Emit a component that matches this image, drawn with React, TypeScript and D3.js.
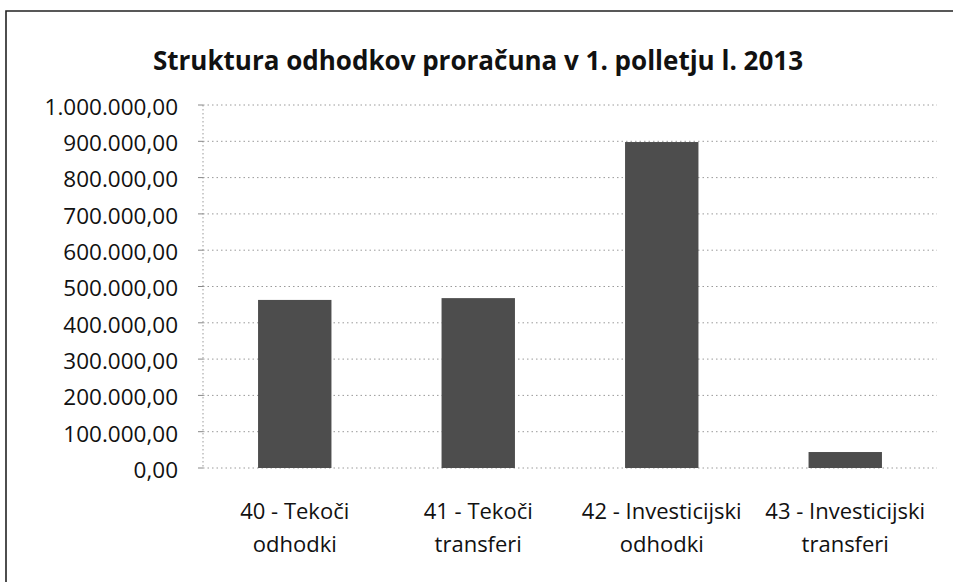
import React, { useEffect, useRef } from 'react';
import * as d3 from 'd3';

const title = 'Struktura odhodkov proračuna v 1. polletju l. 2013';
const categories = [
  ['40 - Tekoči', 'odhodki'],
  ['41 - Tekoči', 'transferi'],
  ['42 - Investicijski', 'odhodki'],
  ['43 - Investicijski', 'transferi'],
];
const values = [463000, 468000, 898000, 44000];
const yTicks = [0, 100000, 200000, 300000, 400000, 500000, 600000, 700000, 800000, 900000, 1000000];

const W = 953;
const H = 582;
const FONT = '"Open Sans", "Noto Sans", sans-serif';

// 1.000.000,00 style
const fmt = (v: number) =>
  d3.format(',.2f')(v).replace(/,/g, '#').replace('.', ',').replace(/#/g, '.');

const App: React.FC = () => {
  const svgRef = useRef<SVGSVGElement>(null);

  useEffect(() => {
    if (!svgRef.current) return;
    const svg = d3.select(svgRef.current);
    svg.selectAll('*').remove();

    const left = 203, right = 937, top = 105, bottom = 468;

    const x = d3.scaleBand<number>()
      .domain(d3.range(categories.length))
      .range([left, right])
      .paddingInner(0.6)
      .paddingOuter(0.3);
    const y = d3.scaleLinear().domain([0, 1000000]).range([bottom, top]);

    svg.append('rect')
      .attr('x', 0).attr('y', 0).attr('width', W).attr('height', H)
      .attr('fill', '#fff');

    // frame
    svg.append('path')
      .attr('d', `M6,${H} L6,11 L${W},11`)
      .attr('fill', 'none')
      .attr('stroke', '#222')
      .attr('stroke-width', 1.6);

    svg.append('text')
      .attr('x', 478).attr('y', 70)
      .attr('text-anchor', 'middle')
      .attr('font-family', FONT)
      .attr('font-weight', 700)
      .attr('font-size', 26)
      .attr('fill', '#111')
      .text(title);

    // gridlines
    svg.append('g')
      .selectAll('line')
      .data(yTicks)
      .enter().append('line')
      .attr('x1', left).attr('x2', right)
      .attr('y1', d => y(d)).attr('y2', d => y(d))
      .attr('stroke', '#9a9a9a')
      .attr('stroke-width', 1)
      .attr('stroke-dasharray', '1.5,3');

    // y axis line + ticks
    svg.append('line')
      .attr('x1', left).attr('x2', left)
      .attr('y1', top).attr('y2', bottom)
      .attr('stroke', '#9a9a9a')
      .attr('stroke-dasharray', '1.5,2.5');
    svg.append('g')
      .selectAll('line')
      .data(yTicks)
      .enter().append('line')
      .attr('x1', left - 5).attr('x2', left)
      .attr('y1', d => y(d)).attr('y2', d => y(d))
      .attr('stroke', '#888');

    svg.append('g')
      .selectAll('text')
      .data(yTicks)
      .enter().append('text')
      .attr('x', 178)
      .attr('y', d => y(d) + 2)
      .attr('dy', '0.35em')
      .attr('text-anchor', 'end')
      .attr('font-family', FONT)
      .attr('font-size', 22.5)
      .attr('fill', '#111')
      .text(d => fmt(d));

    // bars
    svg.append('g')
      .selectAll('rect')
      .data(values)
      .enter().append('rect')
      .attr('x', (_, i) => x(i)!)
      .attr('width', x.bandwidth())
      .attr('y', d => y(d))
      .attr('height', d => bottom - y(d))
      .attr('fill', '#4d4d4d');

    // x labels
    const xl = svg.append('g')
      .selectAll('text')
      .data(categories)
      .enter().append('text')
      .attr('text-anchor', 'middle')
      .attr('font-family', FONT)
      .attr('font-size', 22)
      .attr('fill', '#111');
    xl.each(function (d, i) {
      const t = d3.select(this);
      const cx = x(i)! + x.bandwidth() / 2;
      d.forEach((line, k) => {
        t.append('tspan')
          .attr('x', cx)
          .attr('y', 519 + k * 33)
          .text(line);
      });
    });
  }, []);

  return (
    <svg
      ref={svgRef}
      width={W}
      height={H}
      style={{ display: 'block', position: 'fixed', left: 0, top: 0 }}
    />
  );
};

export default App;
